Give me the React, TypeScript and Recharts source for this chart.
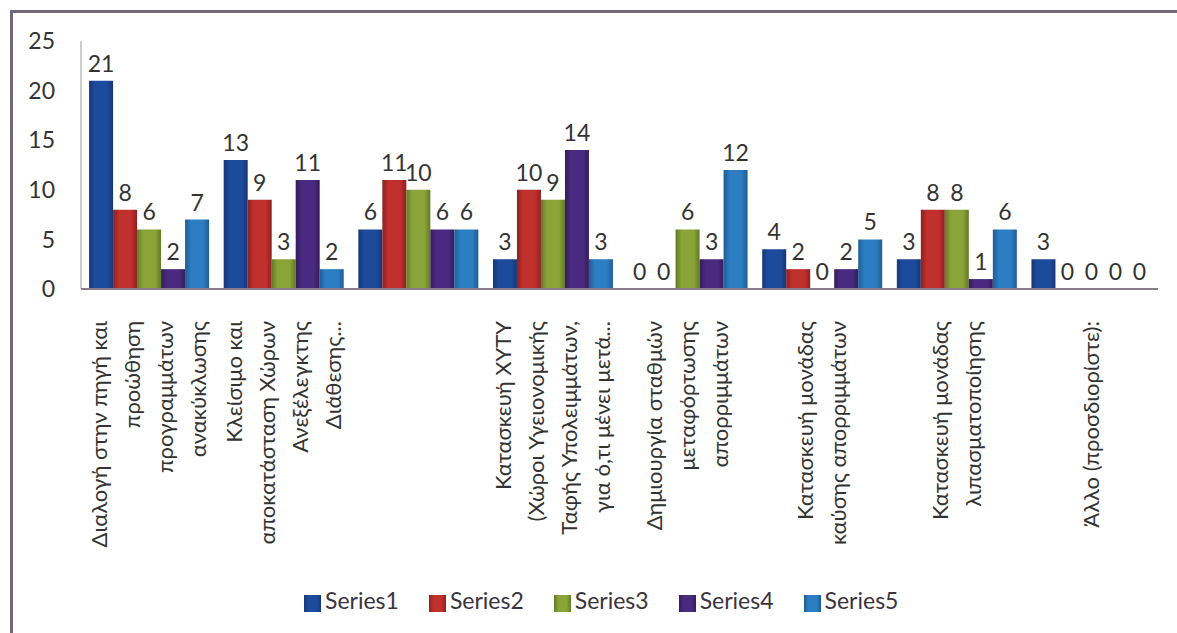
import { Bar, BarChart, XAxis, YAxis, Legend, LabelList } from 'recharts';

const categories = [
  'Διαλογή στην πηγή και προώθηση προγραμμάτων ανακύκλωσης',
  'Κλείσιμο και αποκατάσταση Χώρων Ανεξέλεγκτης Διάθεσης...',
  '',
  'Κατασκευή ΧΥΤΥ (Χώροι Υγειονομικής Ταφής Υπολειμμάτων, για ό,τι μένει μετά...',
  'Δημιουργία σταθμών μεταφόρτωσης απορριμμάτων',
  'Κατασκευή μονάδας καύσης απορριμμάτων',
  'Κατασκευή μονάδας λιπασματοποίησης',
  'Άλλο (προσδιορίστε):',
];

// how the category text wraps under the axis
const labelLines = [
  ['Διαλογή στην πηγή και', 'προώθηση', 'προγραμμάτων', 'ανακύκλωσης'],
  ['Κλείσιμο και', 'αποκατάσταση Χώρων', 'Ανεξέλεγκτης', 'Διάθεσης...'],
  [],
  ['Κατασκευή ΧΥΤΥ', '(Χώροι Υγειονομικής', 'Ταφής Υπολειμμάτων,', 'για ό,τι μένει μετά...'],
  ['Δημιουργία σταθμών', 'μεταφόρτωσης', 'απορριμμάτων'],
  ['Κατασκευή μονάδας', 'καύσης απορριμμάτων'],
  ['Κατασκευή μονάδας', 'λιπασματοποίησης'],
  ['Άλλο (προσδιορίστε):'],
];

const series1 = [21, 13, 6, 3, 0, 4, 3, 3];
const series2 = [8, 9, 11, 10, 0, 2, 8, 0];
const series3 = [6, 3, 10, 9, 6, 0, 8, 0];
const series4 = [2, 11, 6, 14, 3, 2, 1, 0];
const series5 = [7, 2, 6, 3, 12, 5, 6, 0];

const yTicks = [0, 5, 10, 15, 20, 25];

const seriesNames = ['Series1', 'Series2', 'Series3', 'Series4', 'Series5'];
const seriesValues = [series1, series2, series3, series4, series5];
const colors = ['#1d4b9c', '#c0302c', '#8ba43a', '#4a2a80', '#2c7dc2'];
const edgeColors = ['#153775', '#8e2020', '#627a24', '#341c5a', '#1f5c94'];

const data = categories.map((name, i) => {
  const row: Record<string, string | number> = { name };
  seriesNames.forEach((s, j) => {
    row[s] = seriesValues[j][i];
  });
  return row;
});

const font = 'Lato, "Open Sans", sans-serif';

function CategoryTick({ x, y, payload }: any) {
  const lines = labelLines[payload.index] || [];
  const step = 33;
  const n = lines.length;
  return (
    <g>
      {lines.map((line, i) => (
        <text
          key={i}
          x={0}
          y={0}
          transform={`translate(${x + (i - (n - 1) / 2) * step}, ${y + 24}) rotate(-90)`}
          textAnchor="end"
          dominantBaseline="central"
          fontSize={22}
          fontFamily={font}
          fill="#333"
        >
          {line}
        </text>
      ))}
    </g>
  );
}

// value above each bar, zeros included
function ValueLabel(props: any) {
  const { x, y, width, value } = props;
  return (
    <text
      x={Number(x) + Number(width) / 2}
      y={Number(y) - 9}
      textAnchor="middle"
      fontSize={23}
      fontFamily={font}
      fill="#333"
    >
      {value}
    </text>
  );
}

export default function App() {
  return (
    <div style={{ position: 'absolute', left: 0, top: 0, width: 1177, height: 633, background: '#fff' }}>
      <div style={{ position: 'absolute', left: 10, top: 10, width: 1167, height: 623, borderTop: '3px solid #6f6878', borderLeft: '3px solid #6f6878' }} />
      <BarChart
        width={1177}
        height={633}
        data={data}
        margin={{ top: 41, right: 19, bottom: 0, left: 21 }}
        barCategoryGap="6%"
        barGap={0}
      >
        <defs>
          {colors.map((c, i) => (
            <linearGradient key={i} id={`grad${i}`} x1="0" y1="0" x2="1" y2="0">
              <stop offset="0%" stopColor={edgeColors[i]} />
              <stop offset="25%" stopColor={c} />
              <stop offset="75%" stopColor={c} />
              <stop offset="100%" stopColor={edgeColors[i]} />
            </linearGradient>
          ))}
        </defs>
        <XAxis
          dataKey="name"
          height={316}
          interval={0}
          tickLine={false}
          axisLine={{ stroke: '#8a7e8c', strokeWidth: 2 }}
          tick={<CategoryTick />}
        />
        <YAxis
          domain={[0, 25]}
          ticks={yTicks}
          width={60}
          tickLine={false}
          tickMargin={20}
          axisLine={{ stroke: '#9a9a9a' }}
          tick={{ fontSize: 23, fill: '#333', fontFamily: font }}
        />
        <Legend
          iconType="square"
          iconSize={17}
          wrapperStyle={{ left: 304, top: 586, width: 'auto', fontFamily: font, fontSize: 23 }}
          formatter={(v: string) => <span style={{ color: '#3a3340', marginRight: 20 }}>{v}</span>}
        />
        {seriesNames.map((s, i) => (
          <Bar key={s} dataKey={s} fill={`url(#grad${i})`} minPointSize={0.01} isAnimationActive={false} legendType="square">
            <LabelList dataKey={s} content={<ValueLabel />} />
          </Bar>
        ))}
      </BarChart>
    </div>
  );
}
